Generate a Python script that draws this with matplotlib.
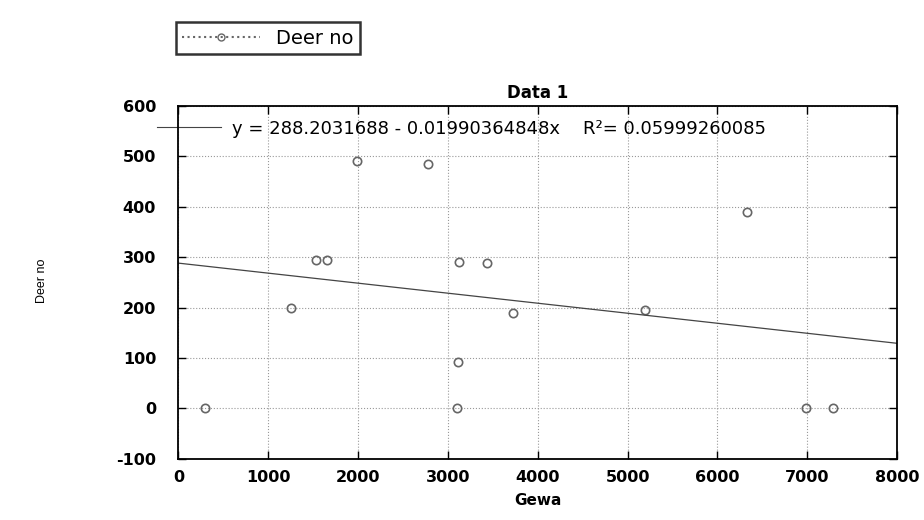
import matplotlib
matplotlib.use("Agg")
import matplotlib.pyplot as plt
from matplotlib.lines import Line2D

# values
gewa = [300, 1250, 1530, 1650, 1990, 2780, 3120, 3440, 3110, 3100, 3720, 5190, 6330, 6980, 7280]
deer = [0, 200, 295, 295, 490, 485, 290, 288, 92, 0, 190, 195, 390, 0, 0]
intercept = 288.2031688
slope = -0.01990364848
r2 = 0.05999260085
fit_x = [0, 8000]
xticks = [0, 1000, 2000, 3000, 4000, 5000, 6000, 7000, 8000]
yticks = [-100, 0, 100, 200, 300, 400, 500, 600]

plt.rcParams['font.family'] = ['DejaVu Sans']
plt.rcParams['axes.unicode_minus'] = False

fig = plt.figure(figsize=(9.24, 5.2), dpi=100)
ax = fig.add_axes([0.193, 0.118, 0.778, 0.678])

ax.plot(gewa, deer, linestyle='none', marker='o', markersize=6,
        markerfacecolor='none', markeredgecolor='#666666', markeredgewidth=1.2)
ax.plot(fit_x, [intercept + slope * x for x in fit_x], color='#444444', lw=0.9)

ax.set_xlim(0, 8000)
ax.set_ylim(-100, 600)
ax.set_xticks(xticks)
ax.set_yticks(yticks)
ax.tick_params(direction='in', top=True, right=True, length=6, width=1,
               labelsize=11.5)
ax.tick_params(axis='x', pad=8)
ax.tick_params(axis='y', pad=16)
for lab in ax.get_xticklabels() + ax.get_yticklabels():
    lab.set_fontweight('bold')
ax.grid(True, linestyle=':', color='#999999', lw=0.8)
for s in ax.spines.values():
    s.set_linewidth(1.3)

ax.set_title("Data 1", fontsize=12, fontweight='bold', pad=6)
ax.set_xlabel("Gewa", fontsize=11, fontweight='bold', labelpad=6)
fig.text(0.045, 0.46, "Deer no", rotation=90, fontsize=9, ha='center', va='center',
         family=['Liberation Sans Narrow', 'Liberation Sans', 'DejaVu Sans'])

eq = f"y = {intercept} - {-slope:.11f}x    R\u00b2= {r2}"
ax.text(0.075, 0.935, eq, transform=ax.transAxes, fontsize=13, va='center')
ax.add_line(Line2D([-0.03, 0.06], [0.94, 0.94], transform=ax.transAxes,
                   color='#444444', lw=0.8, clip_on=False))

handle = Line2D([], [], linestyle=':', color='#666666', marker='o', markersize=5,
                markerfacecolor='none', markeredgecolor='#666666')
leg = fig.legend([handle], ["Deer no"], loc='upper left',
                 bbox_to_anchor=(0.19, 0.958), borderaxespad=0, fontsize=14,
                 frameon=True, fancybox=False, handlelength=4, borderpad=0.35)
leg.get_frame().set_edgecolor('black')
leg.get_frame().set_linewidth(1.8)

fig.savefig("out.png", dpi=100)
